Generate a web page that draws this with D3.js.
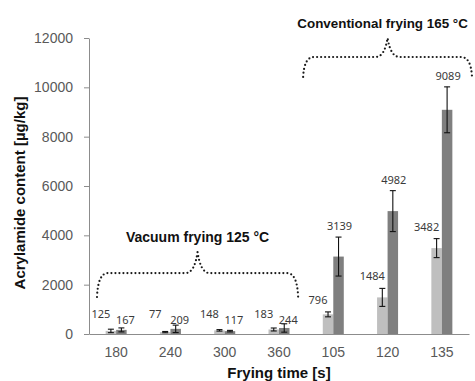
<!DOCTYPE html>
<html>
<head>
<meta charset="utf-8">
<script src="https://cdn.jsdelivr.net/npm/d3@7"></script>
<style>
  html, body { margin: 0; padding: 0; background: #fff; }
  svg { display: block; }
</style>
</head>
<body>
<svg id="chart" width="475" height="381"></svg>
<script>
// Frying times (s): first four vacuum frying, last three conventional frying
const categories = ["180", "240", "300", "360", "105", "120", "135"];
// Acrylamide content (µg/kg) for the two sample series
const lightValues = [125, 77, 148, 183, 796, 1484, 3482];
const darkValues  = [167, 209, 117, 244, 3139, 4982, 9089];
// Standard deviations shown as error bars
const lightErrors = [70, 25, 30, 60, 100, 365, 385];
const darkErrors  = [80, 150, 30, 170, 790, 830, 930];
const yTicks = [0, 2000, 4000, 6000, 8000, 10000, 12000];

// Grouping braces: category span, brace levels in µg/kg and caption
const braceLabels = ["Vacuum frying 125 °C", "Conventional frying 165 °C"];
const braceFrom = ["180", "105"];
const braceTo   = ["360", "135"];
const braceEnds  = [1500, 10420];
const braceLevel = [2470, 11230];
const bracePeak  = [3325, 12000];
const braceText  = [3730, 12400];

const svg = d3.select("#chart");
const font = "'Liberation Sans', Arial, sans-serif";

const x = d3.scaleBand().domain(categories).range([89, 469]).padding(0);
const y = d3.scaleLinear().domain([0, 12000]).range([334, 38]);
const inner = d3.scaleBand().domain(["light", "dark"]).range([-10.5, 10.5]);

const rows = categories.map((c, i) => ({
  cat: c, i,
  light: lightValues[i], dark: darkValues[i],
  lightErr: lightErrors[i], darkErr: darkErrors[i]
}));

// Axes
const yAxis = svg.append("g")
  .attr("transform", `translate(${x.range()[0]},0)`)
  .call(d3.axisLeft(y).tickValues(yTicks).tickFormat(d3.format("d"))
    .tickSize(5).tickSizeOuter(0).tickPadding(11));
yAxis.select(".domain").attr("stroke", "#8c8c8c");
yAxis.selectAll(".tick line").attr("stroke", "#8c8c8c");
yAxis.selectAll("text").attr("fill", "#595959")
  .style("font-family", font).style("font-size", "14px");

const xAxis = svg.append("g")
  .attr("transform", `translate(0,${y(0)})`)
  .call(d3.axisBottom(x).tickSize(0).tickSizeOuter(0).tickPadding(13));
xAxis.select(".domain").attr("stroke", "#8c8c8c");
xAxis.selectAll("text").attr("fill", "#595959")
  .style("font-family", font).style("font-size", "14px");

// Bars
const series = [
  { key: "light", color: "#bfbfbf", err: "lightErr" },
  { key: "dark", color: "#7f7f7f", err: "darkErr" }
];
const bw = inner.bandwidth();
series.forEach(s => {
  const cx = d => x(d.cat) + x.bandwidth() / 2 + inner(s.key);
  svg.append("g").selectAll("rect").data(rows).join("rect")
    .attr("x", d => cx(d))
    .attr("y", d => y(d[s.key]))
    .attr("width", bw)
    .attr("height", d => y(0) - y(d[s.key]))
    .attr("fill", s.color);

  // error bars
  const eg = svg.append("g").attr("stroke", "#111").attr("stroke-width", 1.1);
  rows.forEach(d => {
    const mx = cx(d) + bw / 2;
    const top = y(d[s.key] + d[s.err]);
    const bot = y(Math.max(0, d[s.key] - d[s.err]));
    eg.append("line").attr("x1", mx).attr("x2", mx).attr("y1", top).attr("y2", bot);
    eg.append("line").attr("x1", mx - 3).attr("x2", mx + 3).attr("y1", top).attr("y2", top);
    eg.append("line").attr("x1", mx - 3).attr("x2", mx + 3).attr("y1", bot).attr("y2", bot);
  });

  // value labels: above the error bar for the tall bars, staggered just
  // above the axis for the short vacuum-fried bars
  svg.append("g").selectAll("text").data(rows).join("text")
    .attr("x", d => cx(d) + bw / 2 + (s.key === "light" ? -10 : (d.i < 4 ? 4 : 1)))
    .attr("y", d => {
      if (d.i < 4) return y(0) - (s.key === "light" ? 16 : 10);
      return y(d[s.key] + d[s.err]) - (s.key === "light" ? 8 : 7);
    })
    .attr("text-anchor", "middle")
    .attr("fill", "#3a3a3a")
    .style("font-family", "'Noto Sans', sans-serif")
    .style("font-size", "11px")
    .text(d => d[s.key]);
});

// Dotted braces with captions
braceLabels.forEach((label, k) => {
  const inset = k === 0 ? 8 : -3;
  const x0 = x(braceFrom[k]) + inset;
  const x1 = x(braceTo[k]) + x.bandwidth() - inset;
  const xc = (x(braceFrom[k]) + x(braceTo[k]) + x.bandwidth()) / 2;
  const yE = y(braceEnds[k]), yL = y(braceLevel[k]), yP = y(bracePeak[k]);
  const p = d3.path();
  p.moveTo(x0, yE);
  p.quadraticCurveTo(x0 + 1, yL, x0 + 11, yL);
  p.lineTo(xc - 12, yL);
  p.quadraticCurveTo(xc - 3, yL, xc, yP);
  p.quadraticCurveTo(xc + 3, yL, xc + 12, yL);
  p.lineTo(x1 - 11, yL);
  p.quadraticCurveTo(x1 - 1, yL, x1, yE);
  svg.append("path").attr("d", p.toString())
    .attr("fill", "none").attr("stroke", "#1a1a1a")
    .attr("stroke-width", 2.2).attr("stroke-linecap", "round")
    .attr("stroke-dasharray", "0 4");
  // the wider caption sits a touch smaller so it stays inside the frame
  svg.append("text")
    .attr("x", k === 0 ? xc : xc - 5).attr("y", y(braceText[k]))
    .attr("text-anchor", "middle")
    .attr("fill", "#111")
    .style("font-family", font)
    .style("font-size", k === 0 ? "14px" : "13.4px")
    .style("font-weight", "bold")
    .text(label);
});

// Axis titles
svg.append("text")
  .attr("x", 279).attr("y", 378)
  .attr("text-anchor", "middle").attr("fill", "#111")
  .style("font-family", font).style("font-size", "15px").style("font-weight", "bold")
  .text("Frying time [s]");
svg.append("text")
  .attr("transform", "translate(25,193) rotate(-90)")
  .attr("text-anchor", "middle").attr("fill", "#111")
  .style("font-family", font).style("font-size", "15px").style("font-weight", "bold")
  .text("Acrylamide content [µg/kg]");
</script>
</body>
</html>
